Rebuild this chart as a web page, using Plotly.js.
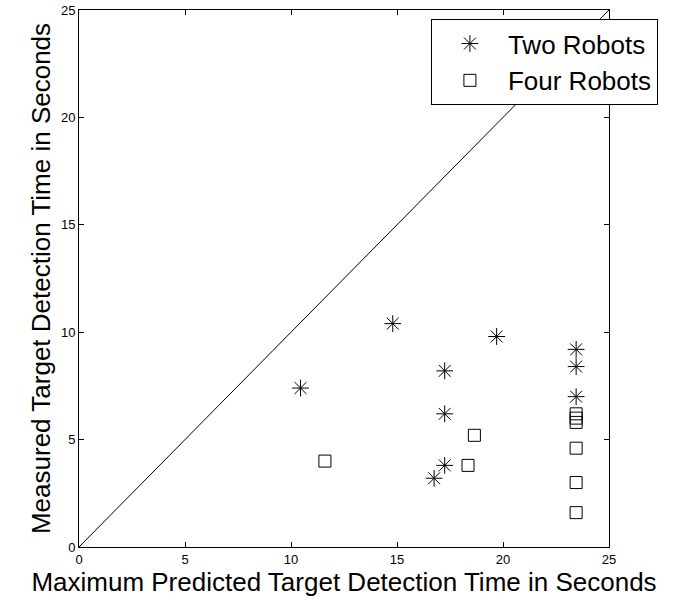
<!DOCTYPE html>
<html><head><meta charset="utf-8">
<script src="https://cdn.plot.ly/plotly-3.0.1.min.js"></script>
<style>body{margin:0;padding:0;background:#fff}#chart{width:686px;height:602px}</style>
</head><body><div id="chart"></div>
<script>
const twoX = [10.45, 14.8, 19.7, 17.25, 17.25, 17.25, 16.75, 23.45, 23.45, 23.45];
const twoY = [7.4, 10.4, 9.8, 8.2, 6.2, 3.8, 3.2, 9.2, 8.4, 7.0];
const fourX = [11.6, 18.65, 18.35, 23.45, 23.45, 23.45, 23.45, 23.45, 23.45];
const fourY = [4.0, 5.2, 3.8, 6.2, 6.0, 5.8, 4.6, 3.0, 1.6];
const lineX = [0, 25];
const lineY = [0, 25];
const tickVals = [0, 5, 10, 15, 20, 25];

const traces = [
  {x: lineX, y: lineY, mode: 'lines', line: {color: '#000', width: 1}, showlegend: false, hoverinfo: 'skip'},
  {x: twoX, y: twoY, mode: 'markers', name: 'Two Robots',
   marker: {symbol: 'asterisk-open', size: 14, color: '#000', line: {color: '#000', width: 1}}},
  {x: fourX, y: fourY, mode: 'markers', name: 'Four Robots',
   marker: {symbol: 'square-open', size: 12, color: '#000', line: {color: '#000', width: 1}}}
];

const axisCommon = {
  range: [0, 25], tickvals: tickVals, ticks: 'inside', ticklen: 5, tickcolor: '#000',
  showline: true, linecolor: '#000', linewidth: 1, mirror: 'ticks', showgrid: false, zeroline: false,
  tickfont: {family: 'Liberation Sans, Arial', size: 13, color: '#000'}
};

const layout = {
  width: 686, height: 602,
  margin: {l: 79, r: 77, t: 10, b: 55},
  paper_bgcolor: '#fff', plot_bgcolor: '#fff',
  font: {family: 'Liberation Sans, Arial', color: '#000'},
  xaxis: Object.assign({}, axisCommon, {
    title: {text: 'Maximum Predicted Target Detection Time in Seconds', font: {size: 26, color: '#000'}, standoff: 2}
  }),
  yaxis: Object.assign({}, axisCommon, {
    title: {text: 'Measured Target Detection Time in Seconds', font: {size: 26, color: '#000'}, standoff: 2}
  }),
  legend: {
    x: 0.664, y: 0.983, xanchor: 'left', yanchor: 'top',
    bgcolor: '#fff', bordercolor: '#000', borderwidth: 1,
    font: {size: 26, color: '#000'}, itemsizing: 'trace', itemwidth: 66,
    tracegroupgap: 0
  },
  showlegend: true
};

Plotly.newPlot('chart', traces, layout, {displayModeBar: false, staticPlot: true});
</script>
</body></html>
